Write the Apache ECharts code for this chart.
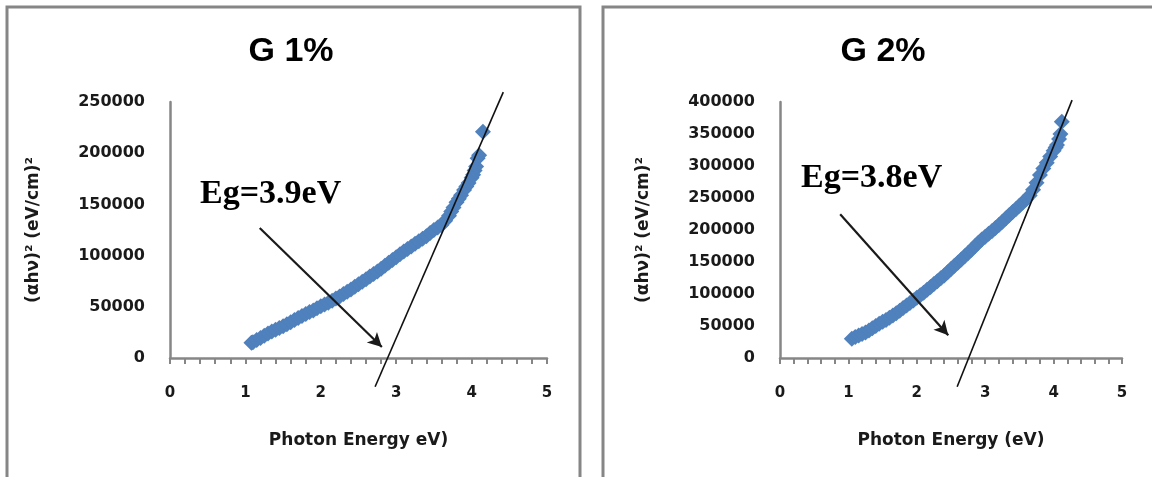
<!DOCTYPE html>
<html>
<head>
<meta charset="utf-8">
<script src="https://cdn.jsdelivr.net/npm/echarts@6/dist/echarts.min.js"></script>
<style>html,body{margin:0;padding:0;background:#fff}#c{width:1152px;height:477px}</style>
</head>
<body>
<div id="c"></div>
<script>
// ---- data ----
const titles = ['G 1%', 'G 2%'];
const xNames = ['Photon Energy eV)', 'Photon Energy (eV)'];
const yName = '(αhν)² (eV/cm)²';
const annotations = ['Eg=3.9eV', 'Eg=3.8eV'];
const xTicks = [0, 1, 2, 3, 4, 5];
const yMaxs = [250000, 400000];

const g1E = [1.08,1.1,1.15,1.2,1.25,1.3,1.35,1.4,1.45,1.5,1.55,1.6,1.65,1.7,1.75,1.8,1.85,1.9,1.95,2.0,2.05,2.1,2.15,2.2,2.25,2.3,2.35,2.4,2.45,2.5,2.55,2.6,2.65,2.7,2.75,2.8,2.85,2.9,2.95,3.0,3.05,3.1,3.15,3.2,3.25,3.3,3.35,3.4,3.45,3.5,3.55,3.6,3.65,3.7,3.73,3.76,3.8,3.83,3.86,3.9,3.93,3.96,4.0,4.02,4.04,4.06,4.08,4.1,4.15];
const g1V = [15000,15500,17500,19500,21800,24000,25800,27500,29200,31000,33000,35000,37000,39000,41000,43000,44800,46500,48500,50500,52200,54000,56000,58000,60000,62500,64800,67000,69500,72000,74500,77000,79500,82000,84500,87200,90000,93000,95800,98500,101200,104000,106500,109000,111500,114000,116500,119000,122000,125000,127500,130000,134000,139000,143000,147000,152000,155500,159000,164000,167500,171000,176000,179000,183000,187000,195000,198000,221000];

const g2E = [1.05,1.1,1.15,1.2,1.25,1.3,1.35,1.4,1.45,1.5,1.55,1.6,1.65,1.7,1.75,1.8,1.85,1.9,1.95,2.0,2.05,2.1,2.15,2.2,2.25,2.3,2.35,2.4,2.45,2.5,2.55,2.6,2.65,2.7,2.75,2.8,2.85,2.9,2.95,3.0,3.05,3.1,3.15,3.2,3.25,3.3,3.35,3.4,3.45,3.5,3.55,3.6,3.65,3.7,3.75,3.8,3.85,3.9,3.95,4.0,4.03,4.05,4.08,4.1,4.12];
const g2V = [30000,33000,35000,37500,40000,43000,46500,50000,53500,56500,59500,63000,66500,70000,74000,78000,82000,86000,90000,94000,98000,102000,106500,111000,115500,120000,124500,129000,134000,139000,144000,149000,154000,159000,164000,169000,174500,180000,185000,189500,194000,198500,203000,208000,213000,218000,223000,228000,233000,238000,243000,248000,254000,263000,274000,286000,296000,305000,315000,324000,329000,333000,342000,350000,369000];

// fitted tangent lines (endpoints)
const fit1E = [2.72, 4.42];
const fit1V = [-28100, 259700];
const fit2E = [2.59, 4.27];
const fit2V = [-45000, 403000];

// arrows (start -> end)
const arrow1E = [1.19, 2.81];
const arrow1V = [127000, 10700];
const arrow2E = [0.88, 2.46];
const arrow2V = [224750, 35650];

const zip = (a, b) => a.map((v, i) => [v, b[i]]);

const chart = echarts.init(document.getElementById('c'));
const sans = 'DejaVu Sans';
const axisCol = '#868686';
const blue = '#4F81BD';
const txt = '#1a1a1a';

function xAxisCfg(gi, name) {
  return {
    type: 'value', gridIndex: gi, min: xTicks[0], max: xTicks[xTicks.length - 1], interval: 1,
    name: name, nameLocation: 'middle', nameGap: 74,
    nameTextStyle: { fontFamily: sans, fontSize: 17, fontWeight: 'bold', color: txt },
    axisLine: { lineStyle: { color: axisCol, width: 2.5 } },
    axisTick: { show: true, length: 6, lineStyle: { color: axisCol, width: 2 } },
    minorTick: { show: true, splitNumber: 5, length: 6, lineStyle: { color: axisCol, width: 2 } },
    splitLine: { show: false },
    axisLabel: { fontFamily: sans, fontSize: 15, fontWeight: 'bold', color: txt, margin: 28 }
  };
}
function yAxisCfg(gi, max) {
  return {
    type: 'value', gridIndex: gi, min: 0, max: max, interval: 50000,
    name: yName, nameLocation: 'middle', nameRotate: 90, nameGap: 128,
    nameTextStyle: { fontFamily: sans, fontSize: 17, fontWeight: 'bold', color: txt },
    axisLine: { show: true, lineStyle: { color: axisCol, width: 2.5 } },
    axisTick: { show: false },
    splitLine: { show: false },
    axisLabel: { fontFamily: sans, fontSize: 16, fontWeight: 'bold', color: txt, margin: 25,
      formatter: (v) => String(v) }
  };
}
function scatterSeries(i, e, v) {
  return {
    type: 'scatter', xAxisIndex: i, yAxisIndex: i, data: zip(e, v),
    symbol: 'diamond', symbolSize: 16, itemStyle: { color: blue, opacity: 1 }, clip: false, z: 2
  };
}
function fitSeries(i, e, v, ae, av) {
  return {
    type: 'line', xAxisIndex: i, yAxisIndex: i, data: zip(e, v), clip: false,
    symbol: 'none', lineStyle: { color: '#111', width: 1.6 }, z: 3,
    markLine: {
      silent: true, symbol: ['none', 'arrow'], symbolSize: [11, 14],
      lineStyle: { color: '#1a1a1a', width: 2.2, type: 'solid' },
      label: { show: false },
      data: [[{ coord: [ae[0], av[0]] }, { coord: [ae[1], av[1]] }]]
    }
  };
}

chart.setOption({
  animation: false,
  backgroundColor: '#fff',
  title: [
    { text: titles[0], left: 286, top: 30, textAlign: 'center',
      textStyle: { fontFamily: 'Liberation Sans', fontWeight: 'bold', fontSize: 34, color: '#000' } },
    { text: titles[1], left: 878, top: 30, textAlign: 'center',
      textStyle: { fontFamily: 'Liberation Sans', fontWeight: 'bold', fontSize: 34, color: '#000' } }
  ],
  grid: [
    { left: 170, top: 102, width: 377, height: 256 },
    { left: 780, top: 102, width: 342, height: 256 }
  ],
  xAxis: [xAxisCfg(0, xNames[0]), xAxisCfg(1, xNames[1])],
  yAxis: [yAxisCfg(0, yMaxs[0]), yAxisCfg(1, yMaxs[1])],
  series: [
    scatterSeries(0, g1E, g1V),
    scatterSeries(1, g2E, g2V),
    fitSeries(0, fit1E, fit1V, arrow1E, arrow1V),
    fitSeries(1, fit2E, fit2V, arrow2E, arrow2V)
  ],
  graphic: [
    { type: 'rect', shape: { x: 7, y: 7, width: 573, height: 490 },
      style: { fill: 'none', stroke: axisCol, lineWidth: 3 }, silent: true },
    { type: 'rect', shape: { x: 603, y: 7, width: 600, height: 490 },
      style: { fill: 'none', stroke: axisCol, lineWidth: 3 }, silent: true },
    { type: 'text', left: 200, top: 177,
      style: { text: annotations[0], font: 'bold 34px "Liberation Serif"', fill: '#000' } },
    { type: 'text', left: 801, top: 161,
      style: { text: annotations[1], font: 'bold 34px "Liberation Serif"', fill: '#000' } }
  ]
});
</script>
</body>
</html>
